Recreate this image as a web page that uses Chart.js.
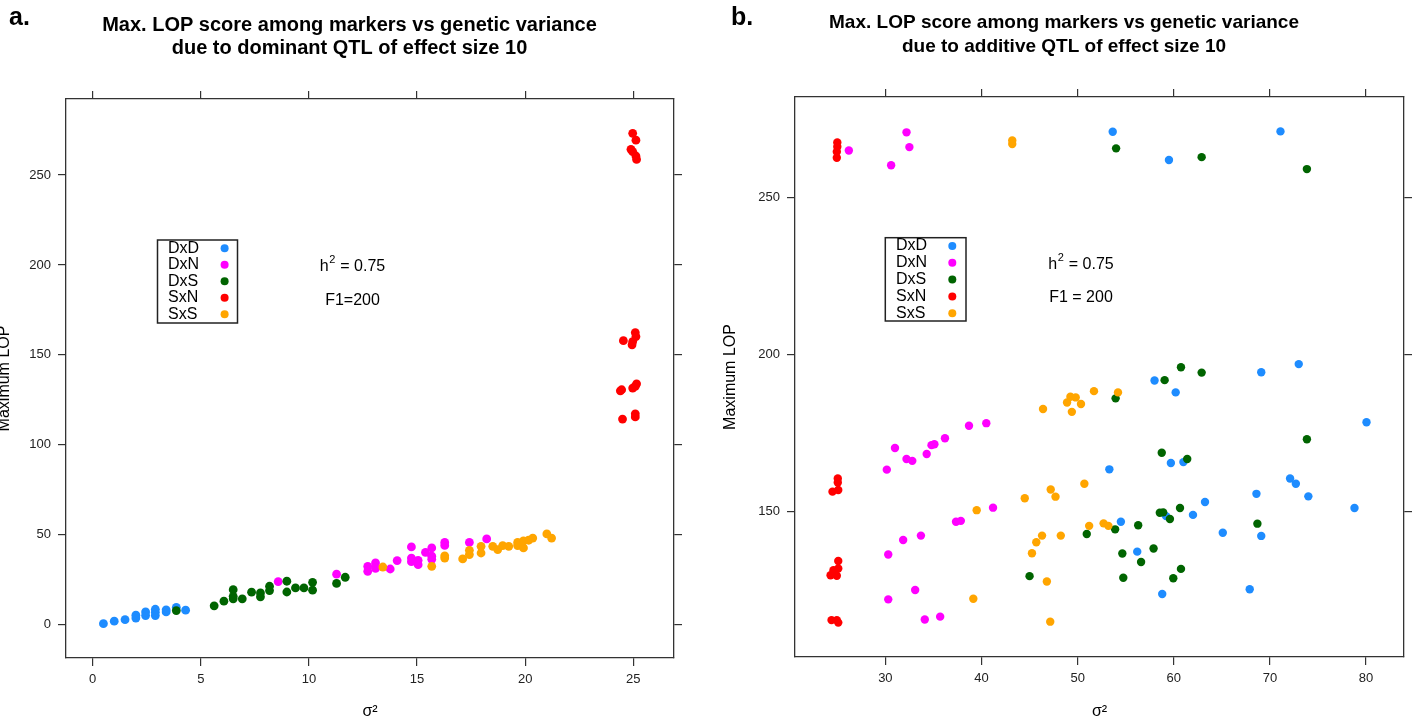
<!DOCTYPE html>
<html><head><meta charset="utf-8">
<script src="https://cdn.jsdelivr.net/npm/chart.js@4.4.1/dist/chart.umd.min.js"></script>
<style>
html,body{margin:0;padding:0;background:#fff;}
#wrap{position:relative;width:1413px;height:724px;overflow:hidden;background:#fff}
#c1{position:absolute;left:0;top:0;}
#c2{position:absolute;left:700px;top:0;}
</style></head><body>
<div id="wrap"><canvas id="c1" width="700" height="724"></canvas><canvas id="c2" width="713" height="724"></canvas></div>
<script>
// ---------- DATA: panel a (dominant QTL) ----------
const groups = ['DxD','DxN','DxS','SxN','SxS'];
const a_DxD_x = [0.5,1.0,1.5,2.0,2.0,2.45,2.45,2.9,2.9,2.9,3.4,3.4,3.87,4.3];
const a_DxD_y = [0.5,1.9,2.7,3.6,5.2,5.0,7.0,5.0,6.8,8.5,7.0,8.2,9.6,8.0];
const a_DxN_x = [8.58,11.28,12.72,12.72,13.08,13.08,13.76,14.08,14.74,14.74,14.74,15.05,15.05,15.39,15.68,15.68,15.68,16.28,16.28,17.42,18.22];
const a_DxN_y = [23.9,28.0,32.4,29.6,34.3,31.2,30.9,35.6,43.2,37.0,35.0,35.7,33.3,40.2,42.6,38.0,36.3,45.7,44.0,45.7,47.6];
const a_DxS_x = [3.87,5.62,6.07,6.5,6.5,6.5,6.92,7.35,7.76,7.76,8.18,8.18,8.98,8.98,9.38,9.77,10.17,10.17,11.28,11.68];
const a_DxS_y = [7.8,10.4,13.0,19.4,15.7,14.3,14.3,18.0,17.6,15.4,21.3,18.9,24.1,18.1,20.4,20.4,23.5,19.1,22.9,26.3];
const a_SxN_x = [24.97,25.12,24.89,24.97,25.12,25.15,25.09,25.12,24.54,24.97,24.94,24.46,24.40,24.97,25.15,25.09,24.5,25.09,25.09];
const a_SxN_y = [273.2,269.4,264.3,263.0,260.6,258.7,162.4,160.2,157.9,157.4,155.6,130.6,130.0,131.5,133.9,132.5,114.3,117.2,115.5];
const a_SxS_x = [13.42,15.68,16.28,16.28,17.11,17.42,17.42,17.96,17.96,18.5,18.73,18.96,19.24,19.65,19.65,19.92,19.92,20.16,20.35,21.0,21.22];
const a_SxS_y = [32.0,32.4,37.0,38.2,36.5,41.3,38.9,43.5,39.8,43.5,41.7,43.9,43.5,45.7,43.9,42.6,46.5,46.9,48.1,50.4,48.1];
const a_xTicks = [0,5,10,15,20,25];
const a_yTicks = [0,50,100,150,200,250];

// ---------- DATA: panel b (additive QTL) ----------
const b_DxD_x = [53.65,59.5,71.1,58.0,60.2,69.1,73.0,80.05,53.3,59.7,61.0,72.1,72.7,74.0,78.8,68.6,63.25,62.0,59.2,54.5,65.1,69.1,56.2,67.9,58.8];
const b_DxD_y = [271.0,262.0,271.1,191.8,188.0,194.4,197.0,178.5,163.5,165.5,165.8,160.6,158.9,154.9,151.2,155.7,153.1,149.0,148.6,146.8,143.3,142.3,137.3,125.3,123.8];
const b_DxN_x = [26.2,32.2,32.5,30.6,31.0,30.15,32.2,32.8,34.3,34.8,35.1,36.2,38.7,40.5,41.2,37.35,37.85,33.7,31.85,30.3,33.1,30.3,34.1,35.7];
const b_DxN_y = [265.0,270.8,266.1,260.3,170.3,163.4,166.8,166.2,168.4,171.2,171.5,173.4,177.4,178.2,151.3,146.8,147.1,142.4,141.0,136.4,125.1,122.1,115.7,116.6];
const b_DxS_x = [54.0,62.9,73.85,53.95,59.05,60.75,62.9,73.85,58.75,61.4,60.65,58.55,58.9,59.6,53.9,56.3,50.95,54.65,57.9,56.6,54.75,59.95,60.75,68.7,45.0];
const b_DxS_y = [265.7,262.9,259.1,186.1,191.9,196.0,194.3,173.1,168.8,166.8,151.2,149.7,149.8,147.7,144.4,145.7,142.9,136.7,138.3,134.0,129.0,128.8,131.8,146.2,129.5];
const b_SxN_x = [25.0,25.0,24.95,24.95,25.05,25.05,24.5,25.1,25.1,24.6,25.1,24.3,24.95,24.4,25.1,24.95];
const b_SxN_y = [267.6,266.2,264.6,262.7,160.6,159.3,156.4,156.9,134.3,131.4,131.9,129.8,129.6,115.5,114.7,115.5];
const b_SxS_x = [43.2,43.2,46.4,48.9,49.25,49.8,50.35,49.4,51.7,54.2,50.7,47.2,47.7,44.5,39.5,51.2,52.7,53.2,46.3,48.25,45.7,45.25,46.8,39.15,47.15];
const b_SxS_y = [268.2,267.1,182.7,184.8,186.6,186.4,184.3,181.8,188.4,188.0,158.9,157.1,154.8,154.3,150.5,145.5,146.3,145.5,142.4,142.4,140.3,136.8,127.8,122.3,115.0];
const b_xTicks = [30,40,50,60,70,80];
const b_yTicks = [150,200,250];

// ---------- STYLE ----------
const FONT = '"Liberation Sans", Arial, Helvetica, sans-serif';
const colors = ['#1E8CFF','#FF00FF','#006400','#FF0000','#FFA500'];

function pts(xs, ys){ return xs.map((x,i)=>({x:x, y:ys[i]})); }

function makeScale(pos, min, max, tickVals, size, showLabels, title){
  const horiz = (pos==='top'||pos==='bottom');
  const s = {
    type:'linear', position:pos, min:min, max:max,
    afterBuildTicks: sc => { sc.ticks = tickVals.map(v=>({value:v})); },
    afterFit: sc => { if (horiz) sc.height = size; else sc.width = size; },
    ticks: { display:showLabels, font:{family:FONT,size:13}, color:'#222', padding: horiz?6:7, maxRotation:0, autoSkip:false },
    grid: { drawOnChartArea:false, drawTicks:true, tickLength:8, color:'#333', lineWidth:1.2 },
    border: { display:true, color:'#333', width:1.3 }
  };
  if (title) s.title = title;
  return s;
}

function drawH2(ctx, cx, cy, restText){
  const f = '16px '+FONT, fs = '11px '+FONT;
  ctx.font = f; const wh = ctx.measureText('h').width; const wr = ctx.measureText(restText).width;
  ctx.font = fs; const w2 = ctx.measureText('2').width;
  let x = cx - (wh + w2 + 1 + wr)/2;
  ctx.textAlign='left'; ctx.textBaseline='middle'; ctx.fillStyle='#000';
  ctx.font = f; ctx.fillText('h', x, cy); x += wh;
  ctx.font = fs; ctx.fillText('2', x+0.5, cy-7); x += w2 + 1;
  ctx.font = f; ctx.fillText(restText, x, cy);
}

const deco = {
  id:'deco',
  afterDraw(chart, args, o){
    const ctx = chart.ctx;
    ctx.save();
    ctx.fillStyle = '#000';
    ctx.font = 'bold 25px '+FONT; ctx.textAlign='left'; ctx.textBaseline='alphabetic';
    ctx.fillText(o.letter, o.letterX, o.letterY);
    ctx.font = 'bold '+o.titleSize+'px '+FONT; ctx.textAlign='center'; ctx.textBaseline='middle';
    o.title.forEach((t,i)=>ctx.fillText(t, o.titleX, o.titleY[i]));
    const L = o.legend;
    ctx.strokeStyle = '#222'; ctx.lineWidth = 1.5;
    ctx.strokeRect(L.x, L.y, L.w, L.h);
    ctx.font = '16px '+FONT; ctx.textAlign='left'; ctx.textBaseline='middle';
    groups.forEach((g,i)=>{
      const y = L.row0 + i*L.step;
      ctx.fillStyle = '#000'; ctx.fillText(g, L.tx, y);
      ctx.fillStyle = colors[i]; ctx.beginPath(); ctx.arc(L.dx, y, 4, 0, Math.PI*2); ctx.fill();
    });
    drawH2(ctx, o.annX, o.hY, o.hRest);
    ctx.font = '16px '+FONT; ctx.textAlign='center'; ctx.fillStyle='#000';
    ctx.fillText(o.fText, o.annX, o.fY);
    ctx.restore();
  }
};

function makeChart(id, data, cfg){
  const datasets = groups.map((g,i)=>({
    label:g, data:data[i], backgroundColor:colors[i], borderWidth:0,
    pointRadius:cfg.r, pointHoverRadius:cfg.r, order:5-i, xAxisID:'x', yAxisID:'y'
  }));
  return new Chart(document.getElementById(id), {
    type:'scatter',
    data:{datasets:datasets},
    plugins:[deco],
    options:{
      responsive:false, animation:false, events:[],
      layout:{padding:0},
      plugins:{legend:{display:false}, tooltip:{enabled:false}, deco:cfg.deco},
      scales:{
        x: makeScale('bottom', cfg.xmin, cfg.xmax, cfg.xt, cfg.bottomH, true,
             {display:true, text:'σ²', color:'#000', font:{family:FONT,size:16}, padding:{top:0,bottom:2.4}}),
        x2: makeScale('top', cfg.xmin, cfg.xmax, cfg.xt, cfg.topH, false),
        y: makeScale('left', cfg.ymin, cfg.ymax, cfg.yt, cfg.leftW, true,
             {display:true, text:'Maximum LOP', color:'#000', font:{family:FONT,size:16}, padding:{top:cfg.yTitlePad,bottom:0}}),
        y2: makeScale('right', cfg.ymin, cfg.ymax, cfg.yt, cfg.rightW, false)
      }
    }
  });
}

makeChart('c1',
  [pts(a_DxD_x,a_DxD_y), pts(a_DxN_x,a_DxN_y), pts(a_DxS_x,a_DxS_y), pts(a_SxN_x,a_SxN_y), pts(a_SxS_x,a_SxS_y)],
  { xmin:-1.23, xmax:26.88, ymin:-18.6, ymax:292.3, xt:a_xTicks, yt:a_yTicks,
    bottomH:66, topH:99, leftW:66, rightW:26, yTitlePad:-4.6, r:4.4,
    deco:{ letter:'a.', letterX:9, letterY:25, titleSize:20, titleX:349.5, titleY:[25,48],
      title:['Max. LOP score among markers vs genetic variance','due to dominant QTL of effect size 10'],
      legend:{x:157.5,y:240,w:80,h:83,row0:248.3,step:16.5,tx:168,dx:224.6},
      annX:352.5, hY:267, hRest:' = 0.75', fY:301, fText:'F1=200' } });

makeChart('c2',
  [pts(b_DxD_x,b_DxD_y), pts(b_DxN_x,b_DxN_y), pts(b_DxS_x,b_DxS_y), pts(b_SxN_x,b_SxN_y), pts(b_SxS_x,b_SxS_y)],
  { xmin:20.6, xmax:83.95, ymin:103.75, ymax:282.05, xt:b_xTicks, yt:b_yTicks,
    bottomH:67, topH:97, leftW:95, rightW:9, yTitlePad:21.4, r:4.2,
    deco:{ letter:'b.', letterX:31, letterY:25, titleSize:19, titleX:364, titleY:[23,47],
      title:['Max. LOP score among markers vs genetic variance','due to additive QTL of effect size 10'],
      legend:{x:185.3,y:237.7,w:80.7,h:83.3,row0:246,step:16.8,tx:196,dx:252.3},
      annX:381, hY:264.5, hRest:' = 0.75', fY:298, fText:'F1 = 200' } });
</script>
</body></html>
